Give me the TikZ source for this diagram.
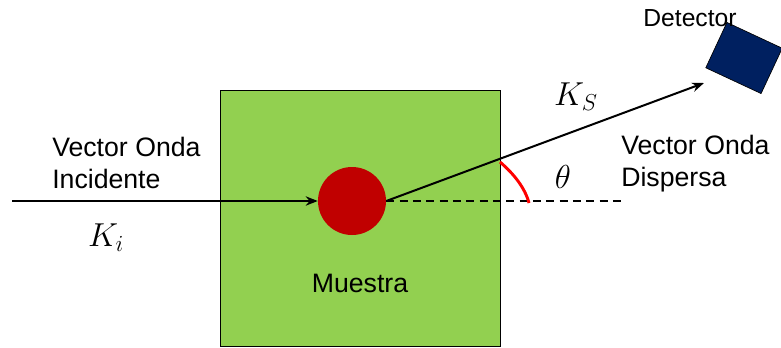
\documentclass[tikz,border=0pt]{standalone}
\usepackage{fontspec}
\setmainfont{Liberation Sans}
\usetikzlibrary{arrows.meta}
\definecolor{sample}{HTML}{92D050}
\definecolor{dot}{HTML}{C00000}
\definecolor{det}{HTML}{002060}
\begin{document}
\begin{tikzpicture}[x=0.75pt,y=-0.75pt,
  lbl/.style={font=\fontsize{20}{24}\selectfont,inner sep=0pt},
  mathlbl/.style={font=\fontsize{26}{28}\selectfont,inner sep=0pt},
  vec/.style={line width=1.5pt,-{Stealth[length=9pt,width=7pt]}}]
\useasboundingbox (0,0) rectangle (781,347);
\node[draw=black,line width=0.8pt,fill=sample,minimum width=280*0.75pt,minimum height=256*0.75pt,anchor=north west,inner sep=0pt] (box) at (220,90) {};
\node[circle,fill=dot,minimum size=68*0.75pt,inner sep=0pt] (dotc) at (352,201) {};
\coordinate (src) at (12,201);
\coordinate (dend) at (625,201);
\coordinate (tip) at (704,83);
\node[rectangle,fill=det,draw=black,line width=0.5pt,minimum width=61*0.75pt,minimum height=50*0.75pt,rotate=-25,inner sep=0pt] (detector) at (744,58) {};
\draw[vec] (src) -- (dotc.west);
\draw[dashed,line width=0.8pt,dash pattern=on 6pt off 4pt] (dotc.east) -- (dend);
\draw[vec] (dotc.east) -- (tip);
\coordinate (a0) at (500,162);
\coordinate (a1) at (529,203);
\draw[red,line width=2.2pt] (a0) .. controls (514,174) and (525,188) .. (a1);
\node[mathlbl] (theta) at (563,177) {$\theta$};
\node[mathlbl] (ks) at (576,97) {$K_S$};
\node[mathlbl] (ki) at (106,238) {$K_i$};
\node[lbl,align=left,anchor=west] (inc) at (52,163) {Vector Onda\\Incidente};
\node[lbl,align=left,anchor=west] (disp) at (621,164) {Vector Onda\\Dispersa};
\node[lbl,font=\fontsize{18.5}{22}\selectfont] (detl) at (690,18) {Detector};
\node[lbl] (mue) at (360,283) {Muestra};
\end{tikzpicture}
\end{document}
